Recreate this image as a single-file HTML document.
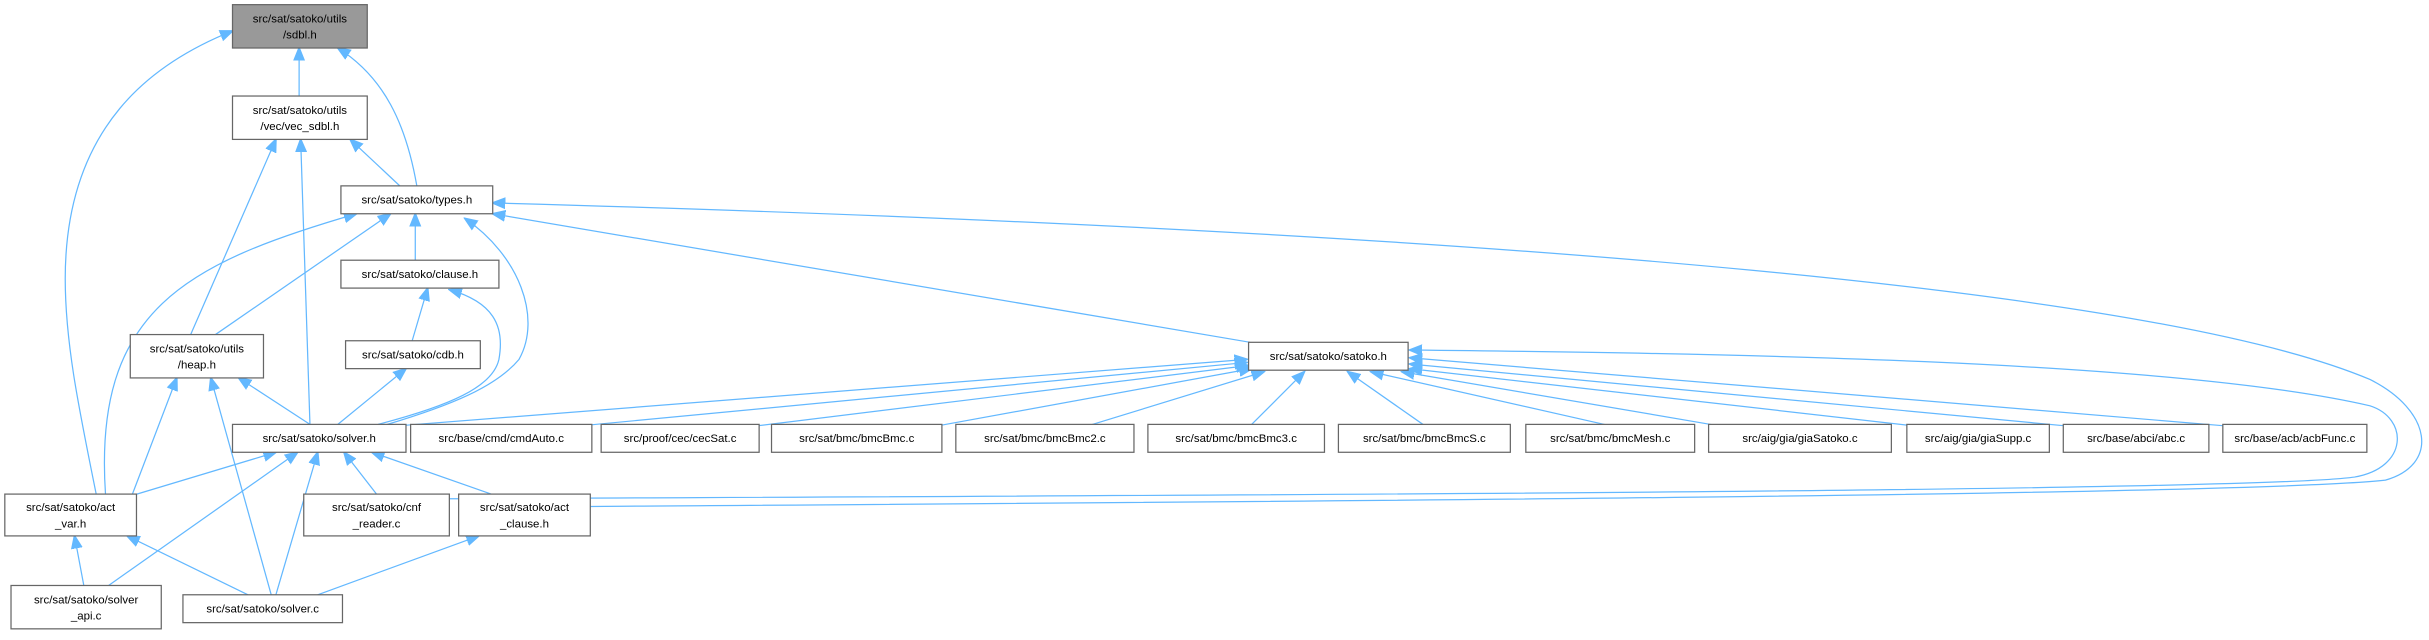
<!DOCTYPE html>
<html><head><meta charset="utf-8"><style>
html,body{margin:0;padding:0;background:#fff;}
svg{display:block}
text{font-family:"Liberation Sans",Arial,sans-serif;font-size:7.4px;fill:#000;text-anchor:middle}
rect{fill:#fff;stroke:#666;stroke-width:0.8}
path{fill:none;stroke:#63b8ff;stroke-width:0.8}
</style></head><body>
<svg width="2429" height="640" viewBox="0 0 1568 413.2" xmlns="http://www.w3.org/2000/svg">
<defs><marker id="a" viewBox="0 0 10 10" refX="9" refY="5" markerWidth="9" markerHeight="9" markerUnits="userSpaceOnUse" orient="auto"><path d="M0,1 L10,5 L0,9 z" style="fill:#63b8ff;stroke:#63b8ff;stroke-width:0.5"/></marker></defs>
<g marker-end="url(#a)">
<path d="M193,62 L193,31"/>
<path d="M62,319 C50,260 42,220 42,180 C42,80 100,40 150,20"/>
<path d="M269,120 C262,80 248,50 218,31"/>
<path d="M258,120 L226,90"/>
<path d="M123,216 L178,90"/>
<path d="M200,274 L194,90"/>
<path d="M268,168 L268,138"/>
<path d="M139,216 L252,138"/>
<path d="M68,319 C60,200 120,170 230,138"/>
<path d="M250,274 C290,262 320,250 335,232 C350,205 335,165 300,141"/>
<path d="M807,221 L318,138"/>
<path d="M381,327 C800,324 1450,320 1540,310 C1575,300 1570,265 1530,245 C1400,190 1000,150 318,131"/>
<path d="M266,220 L276,186"/>
<path d="M244,274 C290,262 318,250 322,232 C326,210 318,195 290,187"/>
<path d="M218,274 L262,238"/>
<path d="M200,274 L154,244"/>
<path d="M85,320 L114,244"/>
<path d="M175,384 L136,244"/>
<path d="M85,320 L178,292"/>
<path d="M70,378 L192,292"/>
<path d="M178,384 L205,292"/>
<path d="M243,319 L222,292"/>
<path d="M317,319 L240,292"/>
<path d="M54,378 L48,346"/>
<path d="M160,384 L82,346"/>
<path d="M205,384 L309,346"/>
<path d="M256,275 L805,232"/>
<path d="M374,275 L805,234"/>
<path d="M488,275 L806,236"/>
<path d="M605,275 L808,238"/>
<path d="M702,275 L816,240"/>
<path d="M807,275 L842,240"/>
<path d="M920,275 L870,240"/>
<path d="M1040,275 L885,240"/>
<path d="M1110,275 L905,240"/>
<path d="M1236,275 L910,238"/>
<path d="M1334,275 L910,235"/>
<path d="M1437,275 L910,231"/>
<path d="M290,322 C700,320 1450,318 1520,308 C1555,302 1555,270 1530,262 C1400,232 1100,228 910,226"/>
</g>
<rect x="150" y="3" width="87" height="28" style="fill:#999"/>
<text x="193.5" y="14.5">src/sat/satoko/utils</text><text x="193.5" y="25">/sdbl.h</text>
<rect x="150" y="62" width="87" height="28"/>
<text x="193.5" y="73.5">src/sat/satoko/utils</text><text x="193.5" y="84">/vec/vec_sdbl.h</text>
<rect x="220" y="120" width="98" height="18"/><text x="269" y="131.5">src/sat/satoko/types.h</text>
<rect x="220" y="168" width="102" height="18"/><text x="271" y="179.5">src/sat/satoko/clause.h</text>
<rect x="223" y="220" width="87" height="18"/><text x="266.5" y="231.5">src/sat/satoko/cdb.h</text>
<rect x="84" y="216" width="86" height="28"/>
<text x="127" y="227.5">src/sat/satoko/utils</text><text x="127" y="238">/heap.h</text>
<rect x="806" y="221" width="103" height="18"/><text x="857.5" y="232.5">src/sat/satoko/satoko.h</text>
<rect x="150" y="274" width="112" height="18"/><text x="206" y="285.5">src/sat/satoko/solver.h</text>
<rect x="265" y="274" width="117" height="18"/><text x="323.5" y="285.5">src/base/cmd/cmdAuto.c</text>
<rect x="388" y="274" width="102" height="18"/><text x="439" y="285.5">src/proof/cec/cecSat.c</text>
<rect x="498" y="274" width="110" height="18"/><text x="553" y="285.5">src/sat/bmc/bmcBmc.c</text>
<rect x="617" y="274" width="115" height="18"/><text x="674.5" y="285.5">src/sat/bmc/bmcBmc2.c</text>
<rect x="741" y="274" width="114" height="18"/><text x="798" y="285.5">src/sat/bmc/bmcBmc3.c</text>
<rect x="864" y="274" width="111" height="18"/><text x="919.5" y="285.5">src/sat/bmc/bmcBmcS.c</text>
<rect x="985" y="274" width="109" height="18"/><text x="1039.5" y="285.5">src/sat/bmc/bmcMesh.c</text>
<rect x="1103" y="274" width="118" height="18"/><text x="1162" y="285.5">src/aig/gia/giaSatoko.c</text>
<rect x="1231" y="274" width="92" height="18"/><text x="1277" y="285.5">src/aig/gia/giaSupp.c</text>
<rect x="1332" y="274" width="94" height="18"/><text x="1379" y="285.5">src/base/abci/abc.c</text>
<rect x="1435" y="274" width="93" height="18"/><text x="1481.5" y="285.5">src/base/acb/acbFunc.c</text>
<rect x="3" y="319" width="85" height="27"/>
<text x="45.5" y="330">src/sat/satoko/act</text><text x="45.5" y="340.5">_var.h</text>
<rect x="196" y="319" width="94" height="27"/>
<text x="243" y="330">src/sat/satoko/cnf</text><text x="243" y="340.5">_reader.c</text>
<rect x="296" y="319" width="85" height="27"/>
<text x="338.5" y="330">src/sat/satoko/act</text><text x="338.5" y="340.5">_clause.h</text>
<rect x="7" y="378" width="97" height="28"/>
<text x="55.5" y="389.5">src/sat/satoko/solver</text><text x="55.5" y="400">_api.c</text>
<rect x="118" y="384" width="103" height="18"/><text x="169.5" y="395.5">src/sat/satoko/solver.c</text>
</svg>
</body></html>
